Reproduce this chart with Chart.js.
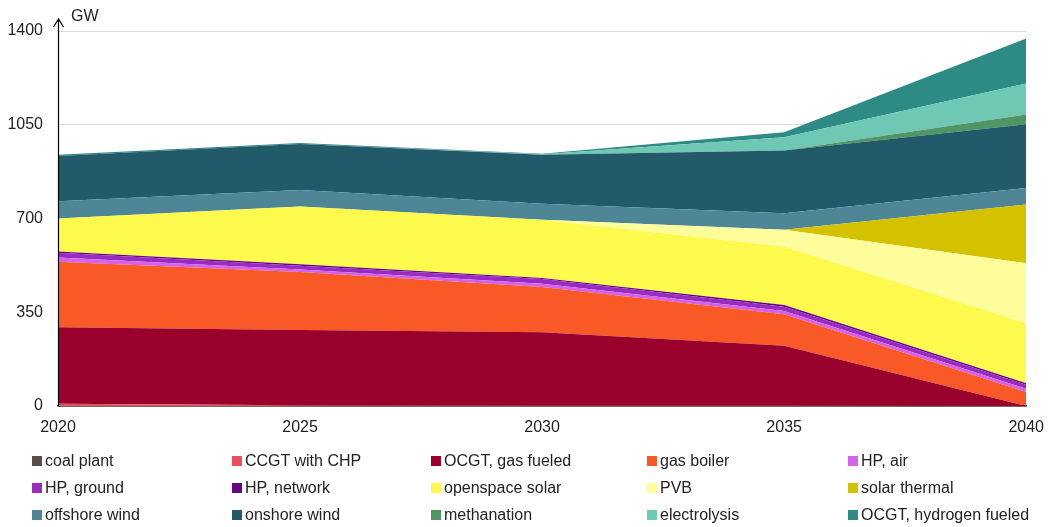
<!DOCTYPE html>
<html>
<head>
<meta charset="utf-8">
<script src="https://cdn.jsdelivr.net/npm/chart.js@4/dist/chart.umd.min.js"></script>
<style>
  body { margin: 0; background: #fff; font-family: "Liberation Sans", Arial, sans-serif; }
  #wrap { position: relative; width: 1056px; height: 527px; }
  #box { position: absolute; left: 0; top: 0; width: 1056px; height: 440px; }
  #legend { position: absolute; left: 0; top: 0; width: 1056px; height: 527px; pointer-events: none; }
  .item { position: absolute; font-size: 16px; color: #222; white-space: nowrap; line-height: 18px; }
  .sw { display: inline-block; width: 10px; height: 10px; margin-right: 3px; vertical-align: 0px; }
</style>
</head>
<body>
<div id="wrap">
  <div id="box"><canvas id="chart"></canvas></div>
  <div id="legend"></div>
</div>
<script>
// --- data (GW, stacked) ---
const years = ['2020', '2025', '2030', '2035', '2040'];

const coalPlant     = [0, 0, 0, 0, 0];
const ccgtChp       = [8, 3, 2, 2, 0];
const ocgtGas       = [286, 281, 273, 223, 0];
const gasBoiler     = [245, 216, 169, 118, 52];
const hpAir         = [15, 10, 12, 12, 12];
const hpGround      = [18, 14, 18, 16, 15];
const hpNetwork     = [5, 5, 4, 6, 6];
const openspaceSolar = [123, 216, 217, 218, 224];
const pvb           = [0, 0, 0, 63, 224];
const solarThermal  = [0, 0, 0, 0, 219];
const offshoreWind  = [64, 61, 60, 62, 62];
const onshoreWind   = [169, 172, 183, 234, 238];
const methanation   = [0, 0, 0, 0, 36];
const electrolysis  = [0, 0, 2, 49, 116];
const ocgtHydrogen  = [5, 4, 2, 19, 168];

const seriesNames = ['coal plant', 'CCGT with CHP', 'OCGT, gas fueled', 'gas boiler', 'HP, air',
  'HP, ground', 'HP, network', 'openspace solar', 'PVB', 'solar thermal',
  'offshore wind', 'onshore wind', 'methanation', 'electrolysis', 'OCGT, hydrogen fueled'];
const seriesValues = [coalPlant, ccgtChp, ocgtGas, gasBoiler, hpAir, hpGround, hpNetwork,
  openspaceSolar, pvb, solarThermal, offshoreWind, onshoreWind, methanation, electrolysis, ocgtHydrogen];
const seriesColors = ['#5f4b45', '#e8505f', '#99002b', '#f95927', '#d462ec', '#9a2bbf', '#650487',
  '#fdfa4d', '#fdfd9b', '#d4c100', '#4f8696', '#225a69', '#4f9664', '#6fc8b4', '#2e8a84'];

const yTicks = [0, 350, 700, 1050, 1400];

// y axis arrow + unit label
const axisArrow = {
  id: 'axisArrow',
  afterDraw(chart) {
    const ctx = chart.ctx;
    const y = chart.scales.y;
    const x0 = Math.round(y.right) + 0.5;
    ctx.save();
    ctx.strokeStyle = '#000';
    ctx.lineWidth = 1.2;
    ctx.beginPath();
    ctx.moveTo(x0, y.bottom);
    ctx.lineTo(x0, 19);
    ctx.moveTo(x0 - 5, 27);
    ctx.lineTo(x0, 19);
    ctx.lineTo(x0 + 5, 27);
    ctx.stroke();
    ctx.fillStyle = '#222';
    ctx.font = '16px "Liberation Sans", Arial, sans-serif';
    ctx.textBaseline = 'middle';
    ctx.fillText('GW', 71, 17);
    ctx.restore();
  }
};

const datasets = seriesNames.map((name, i) => ({
  label: name,
  data: seriesValues[i],
  backgroundColor: seriesColors[i],
  borderColor: seriesColors[i],
  borderWidth: 0,
  pointRadius: 0,
  tension: 0,
  fill: i === 0 ? 'origin' : '-1'
}));

new Chart(document.getElementById('chart'), {
  type: 'line',
  data: { labels: years, datasets: datasets },
  options: {
    responsive: true,
    maintainAspectRatio: false,
    animation: false,
    layout: { padding: { left: 0, right: 25, top: 31, bottom: 0 } },
    plugins: { legend: { display: false }, tooltip: { enabled: false } },
    scales: {
      x: {
        offset: false,
        grid: { display: false, drawTicks: false },
        border: { display: true, color: '#000', width: 1.5 },
        ticks: { color: '#222', font: { size: 16, family: '"Liberation Sans", Arial, sans-serif' }, padding: 12, maxRotation: 0 },
        afterFit: s => { s.height = 34; }
      },
      y: {
        stacked: true,
        min: 0,
        max: 1400,
        afterBuildTicks: s => { s.ticks = yTicks.map(v => ({ value: v })); },
        grid: { color: '#d9d9d9', lineWidth: 1, drawTicks: false },
        border: { display: false },
        ticks: {
          color: '#222',
          font: { size: 16, family: '"Liberation Sans", Arial, sans-serif' },
          padding: 15,
          callback: v => String(v)
        },
        afterFit: s => { s.width = 58; }
      }
    }
  },
  plugins: [axisArrow]
});

// legend in a 5-column grid
const legend = document.getElementById('legend');
const colX = [32, 232, 431, 647, 848];
const rowY = [452, 479, 506];
seriesNames.forEach((name, i) => {
  const d = document.createElement('div');
  d.className = 'item';
  d.style.left = colX[i % 5] + 'px';
  d.style.top = rowY[Math.floor(i / 5)] + 'px';
  d.innerHTML = '<span class="sw" style="background:' + seriesColors[i] + '"></span>' + name;
  legend.appendChild(d);
});
</script>
</body>
</html>
